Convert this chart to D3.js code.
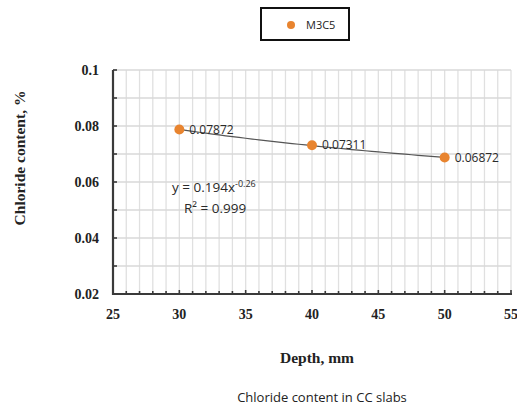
<!DOCTYPE html>
<html>
<head>
<meta charset="utf-8">
<script src="https://cdn.jsdelivr.net/npm/d3@7"></script>
<style>
  html, body { margin: 0; padding: 0; background: #fff; }
  svg { display: block; }
</style>
</head>
<body>
<svg id="chart" width="517" height="410"></svg>
<script>
// Chloride content measured at three depths, series M3C5
const seriesName = "M3C5";
const depths = [30, 40, 50];
const chloride = [0.07872, 0.07311, 0.06872];
const valueLabels = ["0.07872", "0.07311", "0.06872"];
const xTicks = [25, 30, 35, 40, 45, 50, 55];
const yTicks = [0.02, 0.04, 0.06, 0.08, 0.1];
const yTickLabels = ["0.02", "0.04", "0.06", "0.08", "0.1"];
const equationText = ["y = 0.194x", "-0.26"];
const r2Text = "R² = 0.999";
const xTitle = "Depth, mm";
const yTitle = "Chloride content, %";
const caption = "Chloride content in CC slabs";

const svg = d3.select("#chart");
const orange = "#E8842F";
const axisColor = "#3a3a3a";
const serif = "'Liberation Serif', 'Times New Roman', serif";
const sans = "'Open Sans', 'Liberation Sans', Arial, sans-serif";

const plot = { left: 113, right: 511, top: 70, bottom: 294 };
const x = d3.scaleLinear().domain([25, 55]).range([plot.left, plot.right]);
const y = d3.scaleLinear().domain([0.02, 0.1]).range([plot.bottom, plot.top]);

// grid: vertical every 1 mm, horizontal every 0.01
const grid = svg.append("g");
grid.selectAll("line.v").data(d3.range(26, 56, 1)).join("line")
  .attr("x1", d => x(d)).attr("x2", d => x(d))
  .attr("y1", plot.top).attr("y2", plot.bottom)
  .attr("stroke", "#e0e0e0").attr("stroke-width", 1.3);
grid.selectAll("line.h").data(d3.range(0.03, 0.1001, 0.01)).join("line")
  .attr("x1", plot.left).attr("x2", plot.right)
  .attr("y1", d => y(d)).attr("y2", d => y(d))
  .attr("stroke", "#d8d8d8").attr("stroke-width", 1.3);

// x axis with inward minor ticks every 1 mm
const xAxisG = svg.append("g").attr("transform", `translate(0,${plot.bottom})`);
xAxisG.append("line").attr("x1", plot.left - 1).attr("x2", plot.right + 1)
  .attr("stroke", axisColor).attr("stroke-width", 2.2);
xAxisG.selectAll("line.t").data(d3.range(26, 56, 1)).join("line")
  .attr("x1", d => x(d)).attr("x2", d => x(d))
  .attr("y1", 0).attr("y2", d => (d % 5 === 0 ? -4 : -3))
  .attr("stroke", axisColor).attr("stroke-width", 1.6);
xAxisG.selectAll("text").data(xTicks).join("text")
  .attr("x", d => x(d)).attr("y", 25)
  .attr("text-anchor", "middle")
  .attr("font-family", serif).attr("font-weight", "bold").attr("font-size", 14)
  .attr("fill", "#222").text(d => d);

// y axis with inward ticks every 0.01
const yAxisG = svg.append("g").attr("transform", `translate(${plot.left},0)`);
yAxisG.append("line").attr("y1", plot.top).attr("y2", plot.bottom + 1)
  .attr("stroke", axisColor).attr("stroke-width", 2.2);
yAxisG.selectAll("line.t").data(d3.range(0.03, 0.1001, 0.01)).join("line")
  .attr("y1", d => y(d)).attr("y2", d => y(d))
  .attr("x1", 0).attr("x2", 4)
  .attr("stroke", axisColor).attr("stroke-width", 1.6);
yAxisG.selectAll("text").data(yTicks).join("text")
  .attr("x", -14).attr("y", d => y(d)).attr("dy", "0.35em")
  .attr("text-anchor", "end")
  .attr("font-family", serif).attr("font-weight", "bold").attr("font-size", 14)
  .attr("fill", "#222").text((d, i) => yTickLabels[i]);

// power trendline fitted in log space
const lx = depths.map(Math.log), ly = chloride.map(Math.log);
const mx = d3.mean(lx), my = d3.mean(ly);
const slope = d3.sum(lx.map((v, i) => (v - mx) * (ly[i] - my))) / d3.sum(lx.map(v => (v - mx) ** 2));
const coef = Math.exp(my - slope * mx);
const trend = d3.range(30, 50.01, 0.5).map(d => [d, coef * Math.pow(d, slope)]);
svg.append("path")
  .attr("d", d3.line().x(d => x(d[0])).y(d => y(d[1]))(trend))
  .attr("fill", "none").attr("stroke", "#555").attr("stroke-width", 1.2);

// points and value labels
svg.selectAll("circle.pt").data(depths).join("circle")
  .attr("cx", d => x(d)).attr("cy", (d, i) => y(chloride[i]))
  .attr("r", 5).attr("fill", orange);
svg.selectAll("text.val").data(depths).join("text")
  .attr("x", d => x(d) + 10).attr("y", (d, i) => y(chloride[i])).attr("dy", "0.35em")
  .attr("font-family", sans).attr("font-size", 12).attr("fill", "#2a2a2a")
  .text((d, i) => valueLabels[i]);

// trendline equation
const eq = svg.append("text").attr("x", 172).attr("y", 192)
  .attr("font-family", sans).attr("font-size", 13.5).attr("fill", "#2a2a2a");
eq.append("tspan").text(equationText[0]);
eq.append("tspan").attr("dy", -5).attr("font-size", 9).text(equationText[1]);
svg.append("text").attr("x", 184).attr("y", 213)
  .attr("font-family", sans).attr("font-size", 13.5).attr("fill", "#2a2a2a").text(r2Text);

// legend
const lg = svg.append("g");
lg.append("rect").attr("x", 261).attr("y", 8).attr("width", 88).attr("height", 32)
  .attr("fill", "#fff").attr("stroke", "#111").attr("stroke-width", 2);
lg.append("circle").attr("cx", 291).attr("cy", 25).attr("r", 4).attr("fill", orange);
lg.append("text").attr("x", 306).attr("y", 25).attr("dy", "0.35em")
  .attr("font-family", sans).attr("font-size", 11).attr("fill", "#222").text(seriesName);

// axis titles and caption
svg.append("text").attr("x", 317).attr("y", 363).attr("text-anchor", "middle")
  .attr("font-family", serif).attr("font-weight", "bold").attr("font-size", 15.5)
  .attr("fill", "#222").text(xTitle);
svg.append("text").attr("transform", "translate(25,158) rotate(-90)")
  .attr("text-anchor", "middle")
  .attr("font-family", serif).attr("font-weight", "bold").attr("font-size", 15.5)
  .attr("fill", "#222").text(yTitle);
svg.append("text").attr("x", 322).attr("y", 402).attr("text-anchor", "middle")
  .attr("font-family", sans).attr("font-size", 13).attr("fill", "#222").text(caption);
</script>
</body>
</html>
